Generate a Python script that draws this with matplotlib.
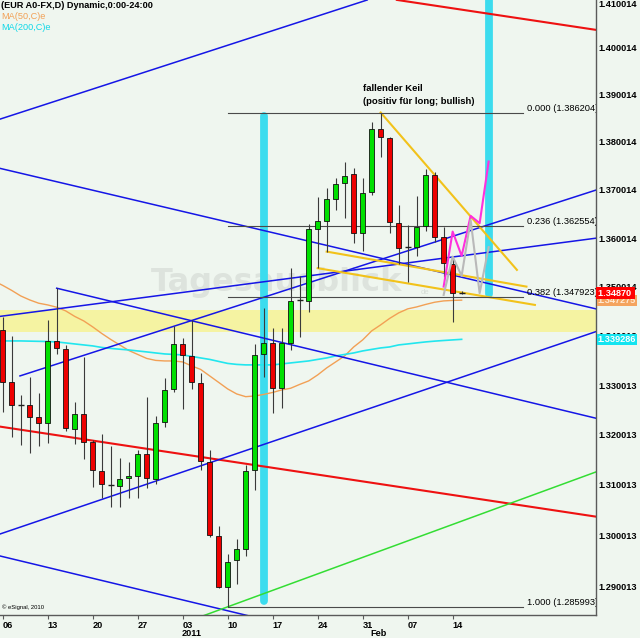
import numpy as np
import matplotlib
matplotlib.use("Agg")
import matplotlib.pyplot as plt
import matplotlib.transforms as mtrans
from matplotlib.ticker import NullLocator, NullFormatter

plt.rcParams['font.family'] = ['Liberation Sans', 'DejaVu Sans']

# daily EUR/USD candles, bar 0 = Mon 06 Dec 2010 ... bar 51 = Tue 15 Feb 2011
opens = [1.34121, 1.33072, 1.32601, 1.32595, 1.32366, 1.32246, 1.33896, 1.33728, 1.32113, 1.32415,
         1.31852, 1.31285, 1.31000, 1.30987, 1.31134, 1.31186, 1.31618, 1.31120, 1.32254, 1.32918,
         1.33835, 1.33598, 1.33052, 1.31465, 1.29996, 1.28993, 1.29517, 1.29733, 1.31299, 1.33632,
         1.33850, 1.32938, 1.33862, 1.34718, 1.34718, 1.36193, 1.36365, 1.36814, 1.37142, 1.37329,
         1.36117, 1.36967, 1.38270, 1.38094, 1.36324, 1.35814, 1.35827, 1.36255, 1.37315, 1.36022,
         1.35471, 1.34882]
highs = [1.34392, 1.33998, 1.32803, 1.33173, 1.32843, 1.34324, 1.34972, 1.33815, 1.32656, 1.33565,
         1.31899, 1.32019, 1.31784, 1.31533, 1.31465, 1.31698, 1.32756, 1.32386, 1.33141, 1.34202,
         1.33952, 1.34324, 1.33254, 1.31698, 1.30194, 1.29635, 1.29925, 1.31399, 1.33835, 1.34563,
         1.34155, 1.34155, 1.35383, 1.35225, 1.36297, 1.36862, 1.37037, 1.37246, 1.37592, 1.37454,
         1.37246, 1.38430, 1.386204, 1.38108, 1.36690, 1.36276, 1.36876, 1.37433, 1.37377, 1.36229,
         1.35568, 1.34917]
lows = [1.32467, 1.31965, 1.31798, 1.31632, 1.31784, 1.31832, 1.33632, 1.32085, 1.31818, 1.31519,
        1.30967, 1.30735, 1.30570, 1.30570, 1.30735, 1.30735, 1.30935, 1.31020, 1.32166, 1.32857,
        1.32515, 1.32924, 1.31299, 1.29976, 1.28977, 1.285993, 1.29046, 1.29596, 1.30901, 1.33161,
        1.32435, 1.32535, 1.33713, 1.33984, 1.34494, 1.35383, 1.35724, 1.36586, 1.36415, 1.35897,
        1.35744, 1.36898, 1.37696, 1.36117, 1.35471, 1.35108, 1.35636, 1.36158, 1.35931, 1.35210,
        1.34290, 1.34855]
closes = [1.33072, 1.32601, 1.32605, 1.32366, 1.32246, 1.33896, 1.33748, 1.32134, 1.32415, 1.31852,
          1.31299, 1.31020, 1.31003, 1.31120, 1.31186, 1.31618, 1.31134, 1.32234, 1.32904, 1.33835,
          1.33612, 1.33072, 1.31485, 1.30010, 1.28993, 1.29484, 1.29727, 1.31285, 1.33612, 1.33850,
          1.32938, 1.33850, 1.34718, 1.34722, 1.36193, 1.36365, 1.36808, 1.37121, 1.37300, 1.36117,
          1.36933, 1.38270, 1.38115, 1.36344, 1.35806, 1.35810, 1.36241, 1.37315, 1.36034, 1.35486,
          1.34882, 1.34870]

# moving averages, bar -1 .. 51
ma50 = [1.35122, 1.35030, 1.34927, 1.34814, 1.34732, 1.34665, 1.34630, 1.34583, 1.34508, 1.34396,
        1.34304, 1.34182, 1.34049, 1.33927, 1.33815, 1.33703, 1.33622, 1.33541, 1.33501, 1.33490,
        1.33490, 1.33470, 1.33389, 1.33318, 1.33187, 1.33056, 1.32924, 1.32823, 1.32768, 1.32782,
        1.32813, 1.32853, 1.32904, 1.32938, 1.33015, 1.33086, 1.33207, 1.33349, 1.33470, 1.33592,
        1.33773, 1.33917, 1.34100, 1.34223, 1.34355, 1.34467, 1.34549, 1.34589, 1.34640, 1.34685,
        1.34712, 1.34722, 1.347275]
ma200 = [1.33896, 1.33896, 1.33896, 1.33896, 1.33892, 1.33888, 1.33884, 1.33876, 1.33856, 1.33835,
         1.33815, 1.33795, 1.33764, 1.33744, 1.33728, 1.33713, 1.33693, 1.33673, 1.33652, 1.33632,
         1.33622, 1.33612, 1.33582, 1.33551, 1.33521, 1.33480, 1.33440, 1.33420, 1.33410, 1.33410,
         1.33410, 1.33410, 1.33430, 1.33450, 1.33470, 1.33490, 1.33521, 1.33551, 1.33592, 1.33622,
         1.33652, 1.33693, 1.33724, 1.33754, 1.33774, 1.33815, 1.33835, 1.33856, 1.33876, 1.33892,
         1.33905, 1.33917, 1.339286]

# fibonacci retracement
fib_ratios = [0.000, 0.236, 0.382, 1.000]
fib_prices = [1.386204, 1.362554, 1.347923, 1.285993]

# projected zig-zags (bars 49..54)
zz_bars = [49, 50, 51, 52, 53, 54]
zz_magenta = [1.35005, 1.36137, 1.35636, 1.36462, 1.36311, 1.37592]
zz_gray = [1.34835, 1.35621, 1.35225, 1.36379, 1.34870, 1.35815]

# hand drawn trend lines: (bar, price) -> (bar, price)
lines_red = [((43.8, 1.4101), (65.93, 1.4037)), ((-0.3, 1.32166), (65.93, 1.30372))]
lines_blue = [((-0.3, 1.38481), (40.5, 1.41008)),
              ((1.92, 1.33187), (65.93, 1.36998)),
              ((-0.3, 1.30029), (65.93, 1.34086)),
              ((-0.3, 1.34396), (65.93, 1.36001)),
              ((-0.3, 1.37450), (65.93, 1.34549)),
              ((6, 1.34972), (65.93, 1.32334)),
              ((-0.3, 1.29596), (27.5, 1.28417))]
line_green = ((25, 1.285993), (65.93, 1.31260))
lines_yellow = [((42, 1.386204), (57.14, 1.35348)),
                ((36, 1.35724), (58.2, 1.35005)),
                ((35, 1.35383), (59.14, 1.34630))]
zone = (1.34080, 1.34528)
marker_bars = [(29, 1.28710, 1.38550), (54, 1.34845, 1.41100)]

week_bars = [0, 5, 10, 15, 20, 25, 30, 35, 40, 45, 50]
week_labels = ['06', '13', '20', '27', '03', '10', '17', '24', '31', '07', '14']
ytick_vals = [1.410014, 1.400014, 1.390014, 1.380014, 1.370014, 1.360014, 1.350014,
              1.340013, 1.330013, 1.320013, 1.310013, 1.300013, 1.290013]

BG = '#eff6ef'
UP, DN = '#00e000', '#ee0000'

fig = plt.figure(figsize=(6.4, 6.38), dpi=100, facecolor=BG)
ax = fig.add_axes([0, 23 / 638, 596 / 640, 615 / 638], facecolor=BG)
ax.set_yscale('log')
ax.set_xlim(-0.3, 65.93)
ax.set_ylim(1.28440, 1.41008)

ax.axhspan(zone[0], zone[1], color='#f5f3a2', lw=0, zorder=0.5)
ax.text(30.4, 1.35081, 'Tagesausblick', fontsize=23, fontweight='bold', color='#dde3dd',
        ha='center', va='center', family='DejaVu Sans', zorder=0.8)
ax.text(46.4, 1.34876, 'de', fontsize=5.5, color='#d6ddd6', ha='left', va='center', zorder=0.8)

for k, lo, hi in marker_bars:
    ax.plot([k, k], [lo, hi], color='#3cdcee', lw=5.6, solid_capstyle='round', zorder=1)

xb = np.arange(-1, 52)
ax.plot(xb, ma50, color='#f2a055', lw=1.0, zorder=2)
ax.plot(xb, ma200, color='#22e6ee', lw=1.2, zorder=2)

def draw(seg, color, lw):
    (k1, v1), (k2, v2) = seg
    ax.plot([k1, k2], [v1, v2], color=color, lw=lw, zorder=2.5)

for s in lines_red:
    draw(s, '#ee1111', 1.5)
for s in lines_blue:
    draw(s, '#1515e6', 1.1)
# green support line, extended back to the bottom edge
(g1, gv1), (g2, gv2) = line_green
gs = (np.log(gv2) - np.log(gv1)) / (g2 - g1)
gk = np.array([21.0, g2])
ax.plot(gk, np.exp(np.log(gv1) + gs * (gk - g1)), color='#33dd33', lw=1.1, zorder=2.5)
for s in lines_yellow:
    draw(s, '#f2c21a', 1.5)

for r, p in zip(fib_ratios, fib_prices):
    ax.plot([25, 57.8], [p, p], color='#4a4a4a', lw=0.8, zorder=2.6)
    ax.text(58.3, p, f'{r:.3f} ({p:.6f})', fontsize=6.7, ha='left', va='bottom',
            clip_on=True, zorder=5)

# candles
idx = np.arange(len(opens))
o, h, l, c = map(np.array, (opens, highs, lows, closes))
ax.vlines(idx, l, h, color='#3a3a3a', lw=0.8, zorder=3)
doji = np.abs(c - o) < 0.00015
for i in idx:
    if doji[i]:
        ax.hlines(c[i], i - 0.33, i + 0.33, color='#202020', lw=1.0, zorder=3.2)
    else:
        ax.bar(i, abs(c[i] - o[i]), bottom=min(o[i], c[i]), width=0.62,
               color=UP if c[i] > o[i] else DN, edgecolor='#111111', lw=0.6, zorder=3.2)

ax.plot(zz_bars, zz_magenta, color='#ff30dd', lw=1.5, zorder=4)
ax.plot(zz_bars, zz_gray, color='#b9b9b9', lw=1.5, zorder=4)

ax.text(40.0, 1.39132, 'fallender Keil', fontsize=6.8, fontweight='bold', ha='left', va='center', zorder=5)
ax.text(40.0, 1.38859, '(positiv für long; bullish)', fontsize=6.8, fontweight='bold',
        ha='left', va='center', zorder=5)

# axes styling
for side in ('top', 'left'):
    ax.spines[side].set_visible(False)
for side in ('right', 'bottom'):
    ax.spines[side].set_color('#5a5a5a')
    ax.spines[side].set_linewidth(1.0)

ax.yaxis.tick_right()
ax.yaxis.set_minor_locator(NullLocator())
ax.yaxis.set_minor_formatter(NullFormatter())
ax.set_yticks(ytick_vals)
ax.set_yticklabels([f'{v:.6f}' for v in ytick_vals])
ax.tick_params(axis='y', length=0, pad=1.5, labelsize=6.6)
for i, t in enumerate(ax.get_yticklabels()):
    t.set_fontweight('bold')
    if i == 0:
        t.set_va('top')

ax.set_xticks(week_bars)
ax.set_xticklabels(week_labels)
ax.tick_params(axis='x', length=3, pad=1, labelsize=6.6, color='#5a5a5a')
for t in ax.get_xticklabels():
    t.set_fontweight('bold')
    t.set_ha('left')

bx = mtrans.blended_transform_factory(ax.transData, ax.transAxes)
ax.text(19.9, -0.0295, '2011', transform=bx, fontsize=6.6, fontweight='bold', ha='left', va='center')
ax.text(40.9, -0.0295, 'Feb', transform=bx, fontsize=6.6, fontweight='bold', ha='left', va='center')
ax.text(0.003, 0.013, '© eSignal, 2010', transform=ax.transAxes, fontsize=4.2, ha='left', va='center')

by = mtrans.blended_transform_factory(ax.transAxes, ax.transData)
ax.text(1.003, 1.339286, '1.339286', transform=by, fontsize=6.6, fontweight='bold', color='white',
        ha='left', va='center', clip_on=False, zorder=6,
        bbox=dict(boxstyle='square,pad=0.12', fc='#14e4f0', ec='none'))
ax.text(1.003, 1.347275, '1.347275', transform=by, fontsize=6.6, fontweight='bold', color='#ffe9d2',
        ha='left', va='center', clip_on=False, zorder=6,
        bbox=dict(boxstyle='square,pad=0.12', fc='#f4a45e', ec='none'))
ax.text(1.003, 1.34870, '1.34870 ', transform=by, fontsize=6.6, fontweight='bold', color='white',
        ha='left', va='center', clip_on=False, zorder=7,
        bbox=dict(boxstyle='square,pad=0.15', fc='#ff0000', ec='none'))

fig.text(1 / 640, 1 - 5 / 638, '(EUR A0-FX,D) Dynamic,0:00-24:00', fontsize=6.6,
         fontweight='bold', ha='left', va='center')
fig.text(1 / 640, 1 - 16.7 / 638, 'MA(50,C)e', fontsize=6.6, color='#f2a055', ha='left', va='center')
fig.text(1 / 640, 1 - 28 / 638, 'MA(200,C)e', fontsize=6.6, color='#10d8e8', ha='left', va='center')

fig.savefig('out.png', dpi=100, facecolor=BG)
